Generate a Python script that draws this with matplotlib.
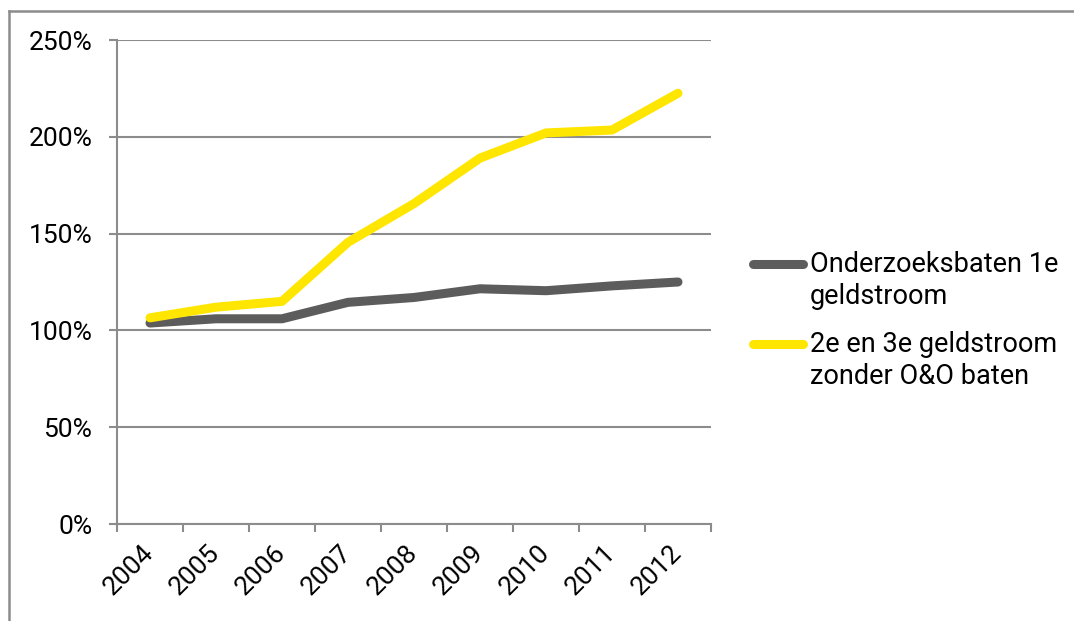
import matplotlib.pyplot as plt
from matplotlib.lines import Line2D
import numpy as np

years = ["2004", "2005", "2006", "2007", "2008", "2009", "2010", "2011", "2012"]
eerste = [103.8, 106.0, 106.0, 114.5, 117.0, 121.5, 120.5, 123.0, 125.0]
tweede_derde = [106.5, 112.0, 115.0, 145.5, 165.5, 189.0, 202.0, 203.5, 222.5]
series_labels = ["Onderzoeksbaten 1e\ngeldstroom", "2e en 3e geldstroom\nzonder O&O baten"]

GRAY = "#5c5c5c"
YELLOW = "#ffe600"
GRID = "#8c8c8c"

plt.rcParams["font.family"] = ["Roboto", "DejaVu Sans"]

W, H = 1074, 621
fig = plt.figure(figsize=(W / 100, H / 100), dpi=100)
ax = fig.add_axes([117 / W, 1 - 524 / H, (711 - 117) / W, (524 - 40) / H])

x = np.arange(len(years))
ax.plot(x, eerste, color=GRAY, lw=6.5, solid_capstyle="round", solid_joinstyle="round", zorder=3)
ax.plot(x, tweede_derde, color=YELLOW, lw=6.5, solid_capstyle="round", solid_joinstyle="round", zorder=4)

ax.set_xlim(-0.5, len(years) - 0.5)
ax.set_ylim(0, 250)

# y axis: gridlines + outward ticks
ax.set_yticks(np.arange(0, 251, 50))
ax.set_yticklabels([f"{v}%" for v in range(0, 251, 50)])
ax.yaxis.grid(True, color=GRID, lw=1.5)
ax.tick_params(axis="y", direction="out", length=5.8, width=1.5, color=GRID, pad=12, labelsize=19)

# x axis: tick marks between categories, labels at centers
ax.set_xticks(np.arange(-0.5, len(years), 1.0), minor=True)
ax.set_xticks(x)
ax.set_xticklabels(years, rotation=45, ha="right", va="center", rotation_mode="anchor")
ax.tick_params(axis="x", which="major", length=0, pad=18, labelsize=19)
ax.tick_params(axis="x", which="minor", direction="out", length=5.8, width=1.5, color=GRID)

for side in ["top", "right"]:
    ax.spines[side].set_visible(False)
for side in ["left", "bottom"]:
    ax.spines[side].set_color(GRID)
    ax.spines[side].set_linewidth(1.5)

# legend drawn by hand so the handle sits on the first text line
for i, (col, lab) in enumerate(zip([GRAY, YELLOW], series_labels)):
    yc = 263.5 + i * 80
    fig.add_artist(Line2D([752.5 / W, 803.5 / W], [1 - yc / H, 1 - yc / H], color=col, lw=6.5,
                          solid_capstyle="round", transform=fig.transFigure))
    for j, line in enumerate(lab.split("\n")):
        fig.text(810 / W, 1 - (yc + 8.3 + j * 32) / H, line, fontsize=19.5,
                 va="baseline", ha="left")

# outer frame (left and top edges only visible)
fig.add_artist(Line2D([9 / W, 9 / W], [-0.05, 1 - 11 / H], color=GRID, lw=1.8,
                      transform=fig.transFigure))
fig.add_artist(Line2D([9 / W, 1.05], [1 - 11 / H, 1 - 11 / H], color=GRID, lw=1.8,
                      transform=fig.transFigure))

fig.savefig("out.png", dpi=100)
